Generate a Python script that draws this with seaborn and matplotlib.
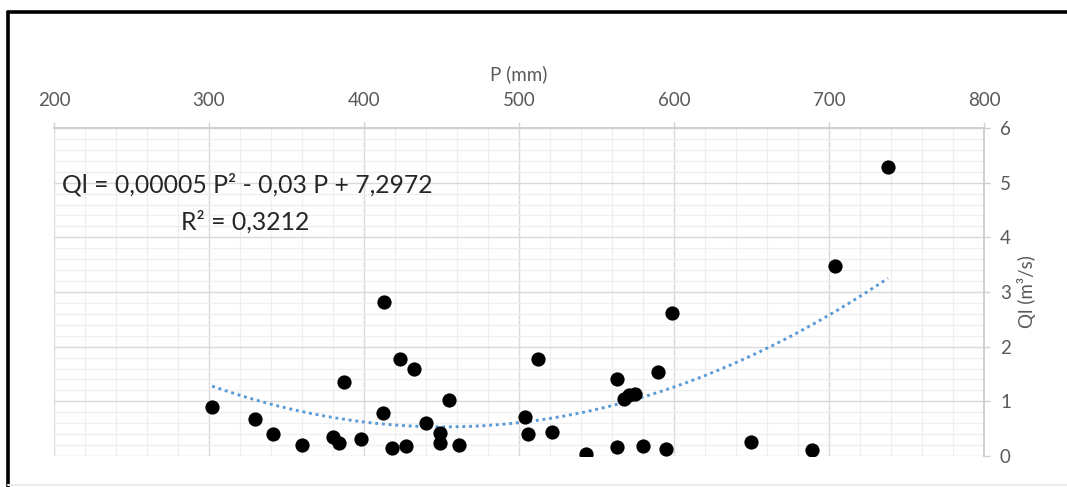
import numpy as np
import pandas as pd
import seaborn as sns
import matplotlib
matplotlib.use("Agg")
import matplotlib.pyplot as plt
from matplotlib.lines import Line2D
from matplotlib.ticker import MultipleLocator

# Precipitation P (mm) and flow Ql (m3/s)
precip = [302, 330, 341, 360, 380, 384, 387, 398, 413, 412, 418, 423, 427, 432,
          440, 449, 449, 455, 461, 504, 506, 512, 521, 543, 563, 563, 568, 571,
          575, 580, 590, 595, 599, 650, 689, 704, 738]
flow = [0.89, 0.67, 0.40, 0.21, 0.35, 0.23, 1.35, 0.31, 2.82, 0.78, 0.15, 1.77,
        0.19, 1.59, 0.60, 0.42, 0.24, 1.02, 0.21, 0.71, 0.40, 1.77, 0.43, 0.03,
        1.40, 0.16, 1.05, 1.11, 1.14, 0.19, 1.53, 0.13, 2.61, 0.26, 0.11, 3.47, 5.28]

x_ticks = [200, 300, 400, 500, 600, 700, 800]
y_ticks = [0, 1, 2, 3, 4, 5, 6]
eq_label = "Ql = 0,00005 P² - 0,03 P + 7,2972"
r2_label = "R² = 0,3212"

df = pd.DataFrame({"P": precip, "Ql": flow})

sns.set_style("white")
plt.rcParams["font.family"] = ["Lato", "DejaVu Sans"]

fig = plt.figure(figsize=(10.67, 4.87), dpi=100)
ax = fig.add_axes([54 / 1067, 1 - 456 / 487, 930 / 1067, 328 / 487])

# second-order polynomial trend
coef = np.polyfit(df["P"], df["Ql"], 2)
p_grid = np.linspace(df["P"].min(), df["P"].max(), 200)
trend = pd.DataFrame({"P": p_grid, "Ql": np.polyval(coef, p_grid)})

sns.lineplot(data=trend, x="P", y="Ql", ax=ax, color="#5B9BD5", linewidth=2.1,
             linestyle=(0, (1, 1.3)), zorder=2)
sns.scatterplot(data=df, x="P", y="Ql", ax=ax, color="black", s=105,
                edgecolor="black", linewidth=0, zorder=3)

ax.set_xlim(200, 800)
ax.set_ylim(0, 6)
ax.set_xticks(x_ticks)
ax.set_yticks(y_ticks)
ax.xaxis.set_minor_locator(MultipleLocator(20))
ax.yaxis.set_minor_locator(MultipleLocator(0.2))
ax.grid(which="major", color="#d9d9d9", linewidth=1.0)
ax.grid(which="minor", color="#efefef", linewidth=0.9)
ax.set_axisbelow(True)

ax.xaxis.tick_top()
ax.xaxis.set_label_position("top")
ax.yaxis.tick_right()
ax.yaxis.set_label_position("right")
ax.tick_params(axis="x", which="major", direction="out", length=4.5, width=1,
               color="#d0d0d0", pad=9, labelsize=13.5, labelcolor="#595959")
ax.tick_params(axis="y", which="major", direction="out", length=4.5, width=1,
               color="#d0d0d0", pad=7, labelsize=13.5, labelcolor="#595959")
ax.tick_params(which="minor", length=0)

for side in ["left", "bottom"]:
    ax.spines[side].set_visible(False)
for side in ["top", "right"]:
    ax.spines[side].set_color("#d0d0d0")
    ax.spines[side].set_linewidth(1.4)

ax.set_xlabel("P (mm)", fontsize=13.5, color="#595959", labelpad=9)
ax.set_ylabel("Ql (m³/s)", fontsize=13.5, color="#595959", labelpad=4,
              rotation=90)

ax.text(0.009, 0.826, eq_label, transform=ax.transAxes, fontsize=17.8,
        color="#262626", ha="left", va="center")
ax.text(0.206, 0.713, r2_label, transform=ax.transAxes, fontsize=17.8,
        color="#262626", ha="center", va="center")

# outer frame
fig.add_artist(Line2D([8 / 1067, 8 / 1067], [0, 1 - 12 / 487], color="black",
                      linewidth=2.6, transform=fig.transFigure))
fig.add_artist(Line2D([8 / 1067, 1], [1 - 12 / 487, 1 - 12 / 487], color="black",
                      linewidth=2.6, transform=fig.transFigure))
fig.add_artist(Line2D([8 / 1067, 1], [1 - 485 / 487, 1 - 485 / 487],
                      color="#ececec", linewidth=1.5, transform=fig.transFigure))

fig.savefig("out.png", dpi=100)
